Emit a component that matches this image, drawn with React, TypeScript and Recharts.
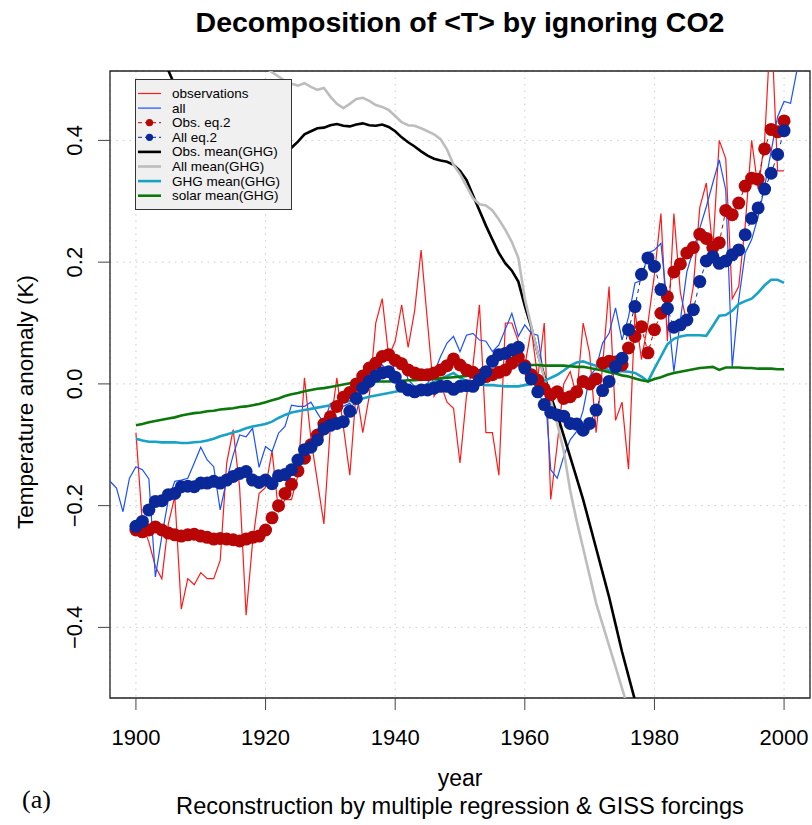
import React from "react";
import {
  ComposedChart,
  Line,
  XAxis,
  YAxis,
  CartesianGrid,
  ReferenceArea,
} from "recharts";

// annual values
const OBS_START = 1900;
const observations = [
  -0.08, -0.23, -0.26, -0.30, -0.32, -0.23, -0.185, -0.37, -0.32, -0.33,
  -0.31, -0.32, -0.32, -0.29, -0.13, -0.075, -0.17, -0.38, -0.26, -0.18,
  -0.17, -0.11, -0.21, -0.19, -0.19, -0.15, 0.01, -0.09, -0.16, -0.23,
  -0.07, 0.01, -0.07, -0.15, -0.01, -0.08, -0.02, 0.10, 0.14, 0.045,
  0.07, 0.13, 0.06, 0.12, 0.22, 0.10, -0.02, 0.0, -0.03, -0.04,
  -0.13, -0.02, 0.03, 0.13, -0.08, -0.08, -0.15, 0.10, 0.10, 0.07,
  0.03, 0.09, 0.01, 0.10, -0.19, -0.10, 0.0, 0.02, -0.02, 0.10,
  0.05, -0.08, 0.03, 0.16, -0.06, -0.03, -0.14, 0.12, 0.04, 0.10,
  0.18, 0.28, 0.07, 0.28, 0.15, 0.10, 0.16, 0.29, 0.33, 0.22,
  0.40, 0.37, 0.14, 0.16, 0.26, 0.40, 0.32, 0.40, 0.60, 0.35,
  0.35,
];

const ALL_START = 1896;
const allRuns = [
  -0.16, -0.171, -0.21, -0.155,
  -0.136, -0.141, -0.156, -0.317, -0.25, -0.19, -0.16, -0.158, -0.155, -0.13,
  -0.104, -0.125, -0.136, -0.207, -0.158, -0.117, -0.084, -0.087, -0.073, -0.137,
  -0.103, -0.111, -0.081, -0.07, -0.035, -0.037, -0.037, -0.03, -0.048, -0.065,
  -0.032, -0.032, -0.037, -0.032, -0.048, -0.004, 0.02, 0.042, 0.031, 0.02,
  0.031, 0.042, 0.007, -0.004, -0.005, 0.001, 0.018, 0.045, 0.067, 0.078,
  0.053, 0.08, 0.083, 0.072, 0.07, 0.053, 0.064, 0.09, 0.116, 0.078,
  0.097, 0.083, 0.08, 0.007, -0.141, -0.155, -0.119, -0.092, -0.078, -0.043,
  0.012, 0.026, 0.067, 0.083, 0.125, 0.072, 0.11, 0.166, 0.17, 0.215,
  0.22, 0.231, 0.127, 0.02, 0.105, 0.184, 0.22, 0.256, 0.291, 0.33,
  0.368, 0.319, 0.028, 0.138, 0.215, 0.237, 0.275, 0.324, 0.382, 0.439,
  0.464, 0.461, 0.516, 0.58,
];

const EQ2_START = 1900;
const obsEq2 = [
  -0.24, -0.243, -0.24, -0.235, -0.24, -0.245, -0.248, -0.25, -0.248, -0.247,
  -0.25, -0.252, -0.255, -0.254, -0.255, -0.256, -0.258, -0.255, -0.252, -0.25,
  -0.24, -0.22, -0.2, -0.18, -0.165, -0.143, -0.122, -0.1, -0.084, -0.066,
  -0.054, -0.037, -0.022, -0.014, 0.0, 0.013, 0.026, 0.034, 0.045, 0.048,
  0.039, 0.033, 0.023, 0.018, 0.015, 0.015, 0.018, 0.023, 0.03, 0.041,
  0.031, 0.023, 0.019, 0.014, 0.012, 0.015, 0.019, 0.023, 0.034, 0.044,
  0.03, 0.015, 0.006, -0.008, -0.018, -0.013, -0.024, -0.021, -0.013, 0.004,
  0.0, 0.008, 0.034, 0.037, 0.036, 0.031, 0.059, 0.078, 0.094, 0.051,
  0.089, 0.116, 0.143, 0.184, 0.197, 0.215, 0.224, 0.246, 0.239, 0.224,
  0.232, 0.285, 0.278, 0.297, 0.325, 0.338, 0.336, 0.386, 0.418, 0.414,
  0.432,
];
const allEq2 = [
  -0.234, -0.226, -0.207, -0.193, -0.192, -0.182, -0.18, -0.169, -0.168, -0.169,
  -0.163, -0.163, -0.16, -0.163, -0.158, -0.152, -0.147, -0.144, -0.158, -0.162,
  -0.158, -0.164, -0.151, -0.149, -0.141, -0.125, -0.108, -0.104, -0.092, -0.074,
  -0.068, -0.065, -0.062, -0.045, -0.024, -0.007, 0.004, 0.013, 0.018, 0.02,
  0.011, -0.004, -0.01, -0.013, -0.01, -0.01, -0.007, -0.004, -0.004, -0.009,
  -0.004, -0.003, -0.004, 0.007, 0.02, 0.037, 0.048, 0.05, 0.056, 0.06,
  0.026, 0.008, -0.013, -0.034, -0.047, -0.051, -0.053, -0.065, -0.066, -0.076,
  -0.065, -0.043, -0.011, 0.004, 0.028, 0.042, 0.089, 0.127, 0.18, 0.207,
  0.193, 0.155, 0.124, 0.093, 0.097, 0.105, 0.122, 0.168, 0.202, 0.209,
  0.198, 0.202, 0.212, 0.22, 0.245, 0.272, 0.289, 0.32, 0.346, 0.377,
  0.416,
];

const MEAN_START = 1900;
const obsMean = [
  0.62, 0.60, 0.58, 0.555, 0.535, 0.515, 0.49, 0.465, 0.44, 0.42,
  0.40, 0.38, 0.365, 0.35, 0.34, 0.335, 0.33, 0.33, 0.335, 0.34,
  0.345, 0.355, 0.365, 0.375, 0.388, 0.398, 0.41, 0.415, 0.42, 0.421,
  0.425, 0.427, 0.424, 0.423, 0.426, 0.428, 0.425, 0.424, 0.426, 0.422,
  0.415, 0.405, 0.397, 0.39, 0.382, 0.375, 0.37, 0.367, 0.365, 0.36,
  0.35, 0.335, 0.31, 0.285, 0.26, 0.237, 0.215, 0.198, 0.186, 0.168,
  0.128, 0.093, 0.05, 0.013, -0.02, -0.05, -0.085, -0.12, -0.155, -0.19,
  -0.23, -0.27, -0.31, -0.35, -0.395, -0.44, -0.48, -0.52, -0.56, -0.6,
];
const allMean = [
  0.72, 0.71, 0.70, 0.69, 0.68, 0.665, 0.65, 0.64, 0.63, 0.62,
  0.61, 0.60, 0.59, 0.58, 0.57, 0.56, 0.55, 0.54, 0.535, 0.525,
  0.52, 0.512, 0.505, 0.498, 0.493, 0.49, 0.494, 0.488, 0.483, 0.486,
  0.472, 0.46, 0.453, 0.46, 0.468, 0.47, 0.465, 0.458, 0.455, 0.45,
  0.44, 0.43, 0.425, 0.424, 0.42, 0.415, 0.41, 0.402, 0.385, 0.36,
  0.345, 0.325, 0.305, 0.295, 0.293, 0.285, 0.27, 0.253, 0.233, 0.207,
  0.14, 0.095, 0.05, 0.01, -0.027, -0.065, -0.11, -0.175, -0.225, -0.27,
  -0.315, -0.36, -0.395, -0.43, -0.465, -0.5, -0.535, -0.57, -0.61,
];
const ghgMean = [
  -0.09, -0.093, -0.095, -0.095, -0.096, -0.096, -0.096, -0.097, -0.097, -0.096,
  -0.095, -0.093, -0.09, -0.086, -0.083, -0.08, -0.077, -0.073, -0.07, -0.068,
  -0.066, -0.062, -0.056, -0.051, -0.047, -0.045, -0.043, -0.041, -0.039, -0.037,
  -0.035, -0.032, -0.03, -0.028, -0.026, -0.024, -0.021, -0.019, -0.017, -0.015,
  -0.013, -0.011, -0.01, -0.009, -0.005, -0.001, 0.003, 0.008, 0.013, 0.018,
  0.01, 0.005, 0.001, -0.001, -0.002, -0.002, -0.003, -0.004, -0.004, -0.004,
  -0.002, 0.0, 0.003, 0.005, 0.01, 0.015, 0.022, 0.03, 0.035, 0.037,
  0.033, 0.03, 0.027, 0.023, 0.021, 0.021, 0.02, 0.018, 0.012, 0.004,
  0.025, 0.045, 0.065, 0.074, 0.078, 0.08, 0.08, 0.08, 0.079, 0.095,
  0.112, 0.113, 0.12, 0.131, 0.136, 0.14, 0.15, 0.162, 0.171, 0.171,
  0.166,
];
const solarMean = [
  -0.068, -0.066, -0.063, -0.061, -0.059, -0.057, -0.055, -0.052, -0.05, -0.048,
  -0.047, -0.045, -0.044, -0.042, -0.041, -0.04, -0.038, -0.037, -0.035, -0.033,
  -0.03, -0.027, -0.024, -0.02, -0.017, -0.015, -0.012, -0.01, -0.008, -0.007,
  -0.005, -0.003, -0.001, 0.001, 0.002, 0.003, 0.003, 0.004, 0.004, 0.004,
  0.005, 0.005, 0.006, 0.006, 0.007, 0.007, 0.008, 0.009, 0.01, 0.011,
  0.012, 0.013, 0.015, 0.017, 0.019, 0.021, 0.024, 0.027, 0.03, 0.031,
  0.031, 0.031, 0.031, 0.03, 0.03, 0.03, 0.03, 0.029, 0.028, 0.028,
  0.026, 0.024, 0.022, 0.019, 0.017, 0.014, 0.012, 0.009, 0.006, 0.004,
  0.008, 0.011, 0.015, 0.018, 0.02, 0.022, 0.024, 0.026, 0.027, 0.028,
  0.023, 0.027, 0.027, 0.027, 0.026, 0.026, 0.025, 0.025, 0.025, 0.024,
  0.024,
];

const xTicks = [1900, 1920, 1940, 1960, 1980, 2000];
const yTicks = [-0.4, -0.2, 0, 0.2, 0.4];
const X_DOMAIN = [1896, 2004];
const Y_DOMAIN = [-0.516, 0.514];

const series = [
  { key: "obs", name: "observations", start: OBS_START, values: observations, color: "#ff1a1a", width: 1.2 },
  { key: "all", name: "all", start: ALL_START, values: allRuns, color: "#1a50ff", width: 1.2 },
  { key: "obsEq2", name: "Obs. eq.2", start: EQ2_START, values: obsEq2, color: "#b80505", width: 1, dots: true },
  { key: "allEq2", name: "All eq.2", start: EQ2_START, values: allEq2, color: "#0a2898", width: 1, dots: true },
  { key: "obsMean", name: "Obs. mean(GHG)", start: MEAN_START, values: obsMean, color: "#000000", width: 2.6 },
  { key: "allMean", name: "All mean(GHG)", start: MEAN_START, values: allMean, color: "#bdbdbd", width: 2.6 },
  { key: "ghg", name: "GHG mean(GHG)", start: MEAN_START, values: ghgMean, color: "#17a2c6", width: 2.6 },
  { key: "solar", name: "solar mean(GHG)", start: MEAN_START, values: solarMean, color: "#0b780b", width: 2.6 },
];

const rows: Record<string, number>[] = [];
for (let year = X_DOMAIN[0]; year < X_DOMAIN[1]; year++) {
  const row: Record<string, number> = { year };
  series.forEach((s) => {
    const i = year - s.start;
    if (i >= 0 && i < s.values.length) row[s.key] = s.values[i];
  });
  rows.push(row);
}

const FONT = '"Liberation Sans", Arial, Helvetica, sans-serif';

function XTick({ x, payload }: any) {
  return (
    <text x={x} y={745} textAnchor="middle" fontFamily={FONT} fontSize={22} fill="#000">
      {payload.value}
    </text>
  );
}

function YTick({ y, payload }: any) {
  const v = payload.value as number;
  const label = v === 0 ? "0.0" : (v < 0 ? "\u2212" : "") + Math.abs(v).toFixed(1);
  return (
    <text
      transform={`translate(82, ${y}) rotate(-90)`}
      textAnchor="middle"
      fontFamily={FONT}
      fontSize={22}
      fill="#000"
    >
      {label}
    </text>
  );
}

function Legend() {
  const top = 93.5;
  const step = 14.6;
  return (
    <g>
      <rect x={135.5} y={79.5} width={156} height={130} fill="#f0f0f0" stroke="#333" strokeWidth={1} />
      {series.map((s, i) => {
        const cy = top + i * step;
        return (
          <g key={s.key}>
            <line
              x1={138}
              x2={161}
              y1={cy}
              y2={cy}
              stroke={s.color}
              strokeWidth={s.dots ? 1 : s.width}
              strokeDasharray={s.dots ? "4 3" : undefined}
            />
            {s.dots && <circle cx={149.5} cy={cy} r={3.6} fill={s.color} />}
            <text x={172} y={cy} dominantBaseline="central" fontFamily={FONT} fontSize={13.5} fill="#000">
              {s.name}
            </text>
          </g>
        );
      })}
    </g>
  );
}

export default function App() {
  return (
    <div style={{ position: "absolute", left: 0, top: 0, width: 812, height: 825, background: "#fff" }}>
      <ComposedChart
        width={812}
        height={825}
        data={rows}
        margin={{ top: 71, right: 2, bottom: 97, left: 50 }}
      >
        <CartesianGrid stroke="#cccccc" strokeDasharray="1.5 5" />
        <XAxis
          type="number"
          dataKey="year"
          domain={X_DOMAIN}
          ticks={xTicks}
          allowDataOverflow
          axisLine={false}
          tickSize={12}
          tickLine={{ stroke: "#444" }}
          tick={<XTick />}
          height={30}
        />
        <YAxis
          type="number"
          domain={Y_DOMAIN}
          ticks={yTicks}
          allowDataOverflow
          axisLine={false}
          tickSize={12}
          tickLine={{ stroke: "#444" }}
          tick={<YTick />}
          width={60}
        />
        {series.map((s) =>
          s.dots ? (
            <Line
              key={s.key}
              type="linear"
              dataKey={s.key}
              stroke={s.color}
              strokeWidth={s.width}
              strokeDasharray="4 4"
              dot={{ r: 6.5, fill: s.color, stroke: s.color, strokeWidth: 0 }}
              activeDot={false}
              isAnimationActive={false}
            />
          ) : (
            <Line
              key={s.key}
              type="linear"
              dataKey={s.key}
              stroke={s.color}
              strokeWidth={s.width}
              dot={false}
              activeDot={false}
              isAnimationActive={false}
            />
          )
        )}
        <ReferenceArea
          x1={X_DOMAIN[0]}
          x2={X_DOMAIN[1]}
          y1={Y_DOMAIN[0]}
          y2={Y_DOMAIN[1]}
          fill="none"
          fillOpacity={0}
          stroke="#222"
          strokeWidth={1.3}
        />
      </ComposedChart>
      <svg
        width={812}
        height={825}
        style={{ position: "absolute", left: 0, top: 0, pointerEvents: "none" }}
      >
        <text x={460} y={32} textAnchor="middle" fontFamily={FONT} fontWeight="bold" fontSize={28.5} fill="#000">
          {"Decomposition of <T> by ignoring CO2"}
        </text>
        <text
          transform="translate(33, 402) rotate(-90)"
          textAnchor="middle"
          fontFamily={FONT}
          fontSize={22.5}
          fill="#000"
        >
          Temperature anomaly (K)
        </text>
        <text x={460} y={786} textAnchor="middle" fontFamily={FONT} fontSize={23} fill="#000">
          year
        </text>
        <text x={460} y={814} textAnchor="middle" fontFamily={FONT} fontSize={23.6} fill="#000">
          Reconstruction by multiple regression &amp; GISS forcings
        </text>
        <text x={22} y={808} fontFamily='"Liberation Serif", "DejaVu Serif", serif' fontSize={26} fill="#000">
          (a)
        </text>
        <Legend />
      </svg>
    </div>
  );
}
